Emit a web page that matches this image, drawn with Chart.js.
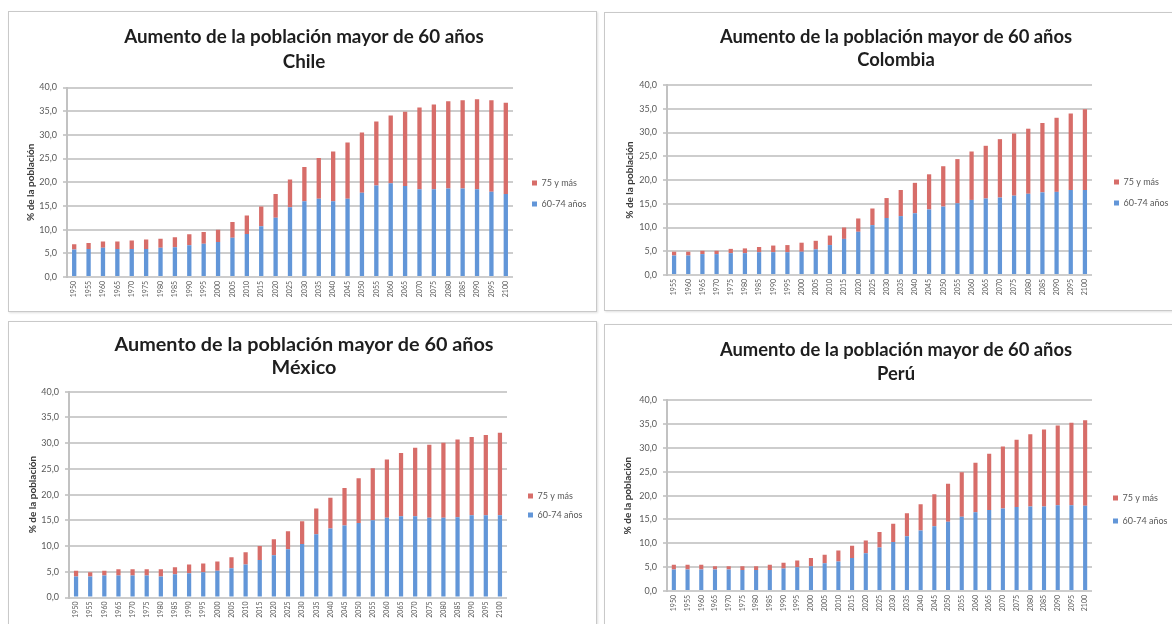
<!DOCTYPE html>
<html lang="es">
<head>
<meta charset="utf-8">
<title>Aumento de la población mayor de 60 años</title>
<script src="https://cdn.jsdelivr.net/npm/chart.js@4.4.1/dist/chart.umd.min.js"></script>
<style>
  html, body { margin: 0; padding: 0; background: #fff; width: 1172px; height: 624px; overflow: hidden; position: relative; }
  .frame { position: absolute; box-sizing: border-box; border: 1px solid #c9c9c9; box-shadow: 1px 1px 2px rgba(0,0,0,0.12); background: #fff; }
  canvas { position: absolute; }
</style>
</head>
<body>
<script>
// ---- Data -----------------------------------------------------------------
const years1950 = ['1950','1955','1960','1965','1970','1975','1980','1985','1990','1995','2000',
  '2005','2010','2015','2020','2025','2030','2035','2040','2045','2050','2055','2060','2065',
  '2070','2075','2080','2085','2090','2095','2100'];
const years1955 = ['1955','1960','1965','1970','1975','1980','1985','1990','1995','2000',
  '2005','2010','2015','2020','2025','2030','2035','2040','2045','2050','2055','2060','2065',
  '2070','2075','2080','2085','2090','2095','2100'];

// % of population aged 60-74 and 75+ (stacked)
const chile6074 = [5.8,5.9,6.2,5.9,5.9,5.9,6.2,6.3,6.7,7.0,7.4,8.3,9.1,10.7,12.5,14.7,16.0,16.5,16.0,16.5,17.8,19.3,19.8,19.2,18.5,18.5,18.7,18.7,18.5,18.0,17.5];
const chile75   = [1.1,1.3,1.3,1.6,1.8,2.0,1.9,2.1,2.3,2.5,2.6,3.3,3.9,4.2,5.0,5.9,7.2,8.6,10.5,11.9,12.7,13.5,14.3,15.7,17.3,17.9,18.4,18.6,19.0,19.3,19.3];

const colombia6074 = [4.1,4.1,4.4,4.4,4.6,4.6,4.8,4.8,4.8,4.9,5.4,6.3,7.6,9.1,10.5,12.0,12.4,13.0,13.8,14.4,15.1,15.8,16.1,16.3,16.7,17.1,17.4,17.5,17.9,17.9];
const colombia75   = [0.8,0.8,0.7,0.7,0.9,1.0,1.1,1.4,1.5,1.9,1.8,2.0,2.4,2.8,3.5,4.2,5.5,6.4,7.4,8.5,9.3,10.2,11.1,12.3,13.1,13.7,14.6,15.6,16.1,17.0];

const mexico6074 = [4.1,4.1,4.3,4.3,4.3,4.3,4.1,4.5,4.7,4.9,5.2,5.7,6.4,7.3,8.2,9.4,10.4,12.3,13.4,14.0,14.5,15.0,15.5,15.8,15.8,15.5,15.5,15.6,16.0,16.0,16.0];
const mexico75   = [1.1,0.8,0.9,1.2,1.2,1.2,1.4,1.4,1.7,1.7,1.8,2.1,2.4,2.7,3.1,3.5,4.4,5.0,6.0,7.3,8.7,10.1,11.3,12.3,13.3,14.2,14.6,15.1,15.2,15.6,16.0];

const peru6074 = [4.5,4.5,4.5,4.5,4.5,4.4,4.4,4.4,4.7,5.0,5.2,5.8,6.2,6.9,7.9,9.1,10.3,11.5,12.7,13.6,14.5,15.6,16.5,17.0,17.3,17.6,17.7,17.7,18.0,18.0,17.9];
const peru75   = [1.0,1.0,1.0,0.7,0.7,0.8,0.8,1.1,1.2,1.4,1.7,1.8,2.3,2.6,2.7,3.3,3.8,4.8,5.5,6.7,8.0,9.3,10.4,11.8,13.0,14.1,15.2,16.2,16.7,17.3,17.9];

const seriesNames = ['60-74 años', '75 y más'];
const titleText = 'Aumento de la población mayor de 60 años';
const axisTitleText = '% de la población';
const yMin = 0, yMax = 40, yStep = 5;

// ---- Look ----------------------------------------------------------------
const BLUE = '#6296d8';
const RED = '#d76d69';
const GRID = '#cdcdcd';
const TEXT = '#595959';
Chart.defaults.font.family = 'Lato, "Open Sans", sans-serif';
Chart.defaults.color = TEXT;

// Places the legend items at a fixed point to the right of the plot.
const legendAnchor = {
  id: 'legendAnchor',
  afterLayout(chart, args, opts) {
    const lg = chart.legend;
    if (!lg || opts.x == null) return;
    const pad = lg.options.labels.padding;
    const dx = opts.x - (lg.left + pad);
    const dy = opts.y - (lg.top + lg.bottom) / 2;
    lg.left += dx; lg.right += dx;
    lg.top += dy; lg.bottom += dy;
  }
};

// Page geometry of each panel: frame, plot area, titles, legend.
const panels = [
  { name: 'Chile', labels: years1950, young: chile6074, old: chile75,
    box: { x: 8, y: 11, w: 589, h: 301 }, plot: { l: 67, t: 87.5, r: 513, b: 277 },
    title: { cx: 304, y1: 37, lh: 25, size: 18.8 }, axisTitleX: 31,
    legend: { x: 532, y: 193.5, gap: 21 } },
  { name: 'Colombia', labels: years1955, young: colombia6074, old: colombia75,
    box: { x: 604, y: 12, w: 600, h: 299 }, plot: { l: 667, t: 85, r: 1092, b: 275 },
    title: { cx: 896, y1: 37, lh: 23, size: 18.4 }, axisTitleX: 627,
    legend: { x: 1114, y: 192.5, gap: 21 } },
  { name: 'México', labels: years1950, young: mexico6074, old: mexico75,
    box: { x: 8, y: 321, w: 589, h: 330 }, plot: { l: 69, t: 391.7, r: 507, b: 597.5 },
    title: { cx: 304, y1: 345, lh: 23, size: 19.8 }, axisTitleX: 32.5,
    legend: { x: 528, y: 505.5, gap: 19 } },
  { name: 'Perú', labels: years1950, young: peru6074, old: peru75,
    box: { x: 604, y: 324, w: 600, h: 330 }, plot: { l: 667, t: 400.3, r: 1092, b: 591 },
    title: { cx: 896, y1: 350, lh: 24, size: 18.4 }, axisTitleX: 627,
    legend: { x: 1113, y: 509.5, gap: 23 } }
];

function build(p) {
  const frame = document.createElement('div');
  frame.className = 'frame';
  Object.assign(frame.style, { left: p.box.x + 'px', top: p.box.y + 'px', width: p.box.w + 'px', height: p.box.h + 'px' });
  document.body.appendChild(frame);

  const canvas = document.createElement('canvas');
  canvas.width = p.box.w;
  canvas.height = p.box.h;
  Object.assign(canvas.style, { left: p.box.x + 'px', top: p.box.y + 'px', width: p.box.w + 'px', height: p.box.h + 'px' });
  document.body.appendChild(canvas);

  // plot area in canvas coordinates
  const L = p.plot.l - p.box.x, T = p.plot.t - p.box.y, R = p.plot.r - p.box.x, B = p.plot.b - p.box.y;
  const titleTop = p.title.y1 - p.box.y - p.title.lh / 2;
  const titleCx = p.title.cx - p.box.x;
  const axisTitleCx = p.axisTitleX - p.box.x;
  const AX_LH = 12;
  let yWidth = L;

  const chart = new Chart(canvas, {
    type: 'bar',
    data: {
      labels: p.labels,
      datasets: [
        { label: seriesNames[0], data: p.young, backgroundColor: BLUE, stack: 'edad' },
        { label: seriesNames[1], data: p.old, backgroundColor: RED, stack: 'edad' }
      ]
    },
    options: {
      responsive: false,
      animation: false,
      devicePixelRatio: 1,
      layout: { padding: { left: 0, right: 0, top: 0, bottom: 0 } },
      datasets: { bar: { categoryPercentage: 0.3, barPercentage: 1 } },
      plugins: {
        title: {
          display: true,
          text: [titleText, p.name],
          color: '#1e1e1e',
          font: { weight: 'bold', size: p.title.size, lineHeight: p.title.lh + 'px' },
          padding: { top: titleTop, bottom: T - titleTop - 2 * p.title.lh }
        },
        legend: {
          position: 'right',
          reverse: true,
          labels: { boxWidth: 5, boxHeight: 5, font: { size: 9 }, color: TEXT, padding: p.legend.gap - 9 }
        },
        legendAnchor: { x: p.legend.x - p.box.x, y: p.legend.y - p.box.y },
        tooltip: { enabled: false }
      },
      scales: {
        x: {
          stacked: true,
          grid: { display: false, drawTicks: false },
          border: { display: false },
          ticks: { minRotation: 90, maxRotation: 90, autoSkip: false, padding: 4, font: { size: 7 }, color: TEXT },
          afterFit: s => { s.height = p.box.h - B; }
        },
        y: {
          stacked: true,
          min: yMin, max: yMax,
          ticks: { stepSize: yStep, padding: 6, font: { size: 9 }, color: TEXT,
                   callback: v => v.toFixed(1).replace('.', ',') },
          grid: { color: GRID, lineWidth: 2, tickLength: 4 },
          border: { display: true, color: '#c2c2c2', width: 2 },
          title: { display: true, text: axisTitleText, color: '#3a3a3a',
                   font: { weight: 'bold', size: 10, lineHeight: AX_LH + 'px' },
                   padding: { top: axisTitleCx - AX_LH / 2, bottom: 0 } },
          afterFit: s => { s.width = yWidth; }
        }
      }
    },
    plugins: [legendAnchor]
  });

  // Fit the plot area into its frame and centre the title.
  const lw = chart.legend.width;
  const padR = p.box.w - R - lw;
  const padL = Math.max(0, Math.min(L - 30, 2 * titleCx - R - lw));
  yWidth = L - padL;
  chart.options.layout.padding = { left: padL, right: padR, top: 0, bottom: 0 };
  chart.options.scales.y.title.padding = { top: Math.max(0, axisTitleCx - AX_LH / 2 - padL), bottom: 0 };
  chart.update();
  return chart;
}

panels.forEach(build);
</script>
</body>
</html>
